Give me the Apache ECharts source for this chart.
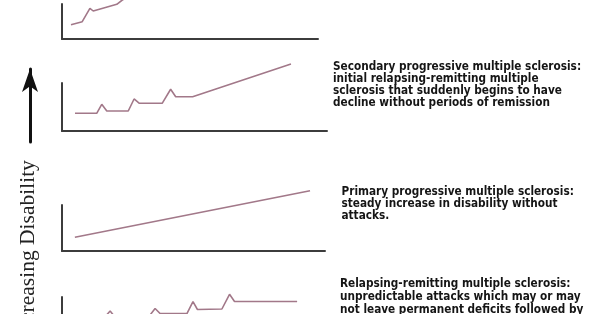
<!DOCTYPE html>
<html><head><meta charset="utf-8">
<script src="https://cdn.jsdelivr.net/npm/echarts@6/dist/echarts.min.js"></script>
<style>html,body{margin:0;padding:0;background:#fff}#c{width:600px;height:314px}</style>
</head><body><div id="c"></div>
<script>
// Disability course curves: [time, disability] in each panel's own 0-100 axes
const progressiveRelapsing = [[3.5,40.9],[7.9,49.4],[10.9,87.7],[12.2,80],[21.4,99.1],[23.3,110],[28.5,134]];
const secondaryProgressive = [[4.9,36.9],[13.1,36.9],[15.0,55.6],[16.9,41.7],[25.0,41.7],[27.2,66.7],[29.2,57.7],[37.8,57.7],[41.0,86.9],[42.9,71.5],[49.3,71.5],[86.4,139.6]];
const primaryProgressive = [[4.9,29.8],[94.3,131]];
const relapsingRemitting = [[4.9,56.5],[16.3,56.5],[18.3,69.6],[19.8,58.7],[33.5,60.9],[35.4,75],[37.3,64.1],[47.5,64.1],[49.8,89.8],[51.5,72.8],[60.8,73.9],[63.7,105.9],[65.6,90.2],[89.4,90.2]];

const axisTitle = 'Increasing Disability';
const descSecondary = 'Secondary progressive multiple sclerosis:\ninitial relapsing-remitting multiple\nsclerosis that suddenly begins to have\ndecline without periods of remission';
const descPrimary = 'Primary progressive multiple sclerosis:\nsteady increase in disability without\nattacks.';
const descRelapsing = 'Relapsing-remitting multiple sclerosis:\nunpredictable attacks which may or may\nnot leave permanent deficits followed by\nperiods of remission';

const curves = [progressiveRelapsing, secondaryProgressive, primaryProgressive, relapsingRemitting];
const grids = [
  {left:62, top:4, width:256, height:35},
  {left:62, top:83, width:265, height:48},
  {left:62, top:205, width:263, height:46},
  {left:62, top:297, width:263, height:46},
  {left:30, top:69, width:10, height:73}
].map(g => Object.assign({outerBoundsMode:'none', containLabel:false}, g));
const axisLine = {show:true, lineStyle:{color:'#3c3c3c', width:2}};
const base = {type:'value', min:0, max:100, axisTick:{show:false}, axisLabel:{show:false}, splitLine:{show:false}};
const xAxes = [], yAxes = [], series = [];
curves.forEach((d,i)=>{
  xAxes.push(Object.assign({}, base, {gridIndex:i, axisLine: axisLine}));
  yAxes.push(Object.assign({}, base, {gridIndex:i, axisLine: axisLine}));
  series.push({type:'line', xAxisIndex:i, yAxisIndex:i, data:d, symbol:'none', clip:false, silent:true,
    lineStyle:{color:'#a27889', width:1.6}});
});
xAxes.push(Object.assign({}, base, {gridIndex:4, show:false}));
yAxes.push(Object.assign({}, base, {gridIndex:4, axisLine:{show:true, symbol:['none','arrow'], symbolSize:[12,23], lineStyle:{color:'#111', width:3}}}));

const descFont = {fontFamily:'DejaVu Sans Condensed', fontWeight:'bold', fontSize:11.7, color:'#151515', lineHeight:12};
const chart = echarts.init(document.getElementById('c'), null, {renderer:'canvas'});
chart.setOption({
  animation:false,
  backgroundColor:'#fff',
  grid: grids,
  xAxis: xAxes,
  yAxis: yAxes,
  series: series,
  title: [
    {text:descSecondary, left:333, top:60.5, padding:0, textStyle:descFont},
    {text:descPrimary, left:341.5, top:185.5, padding:0, textStyle:descFont},
    {text:descRelapsing, left:340, top:277.5, padding:0, textStyle:Object.assign({}, descFont, {lineHeight:13})}
  ],
  graphic: [
    {type:'text', x:28, y:250, rotation:Math.PI/2, silent:true,
      style:{text:axisTitle, font:'21.5px "Liberation Serif"', fill:'#222', align:'center', verticalAlign:'middle'}}
  ]
});
</script></body></html>
